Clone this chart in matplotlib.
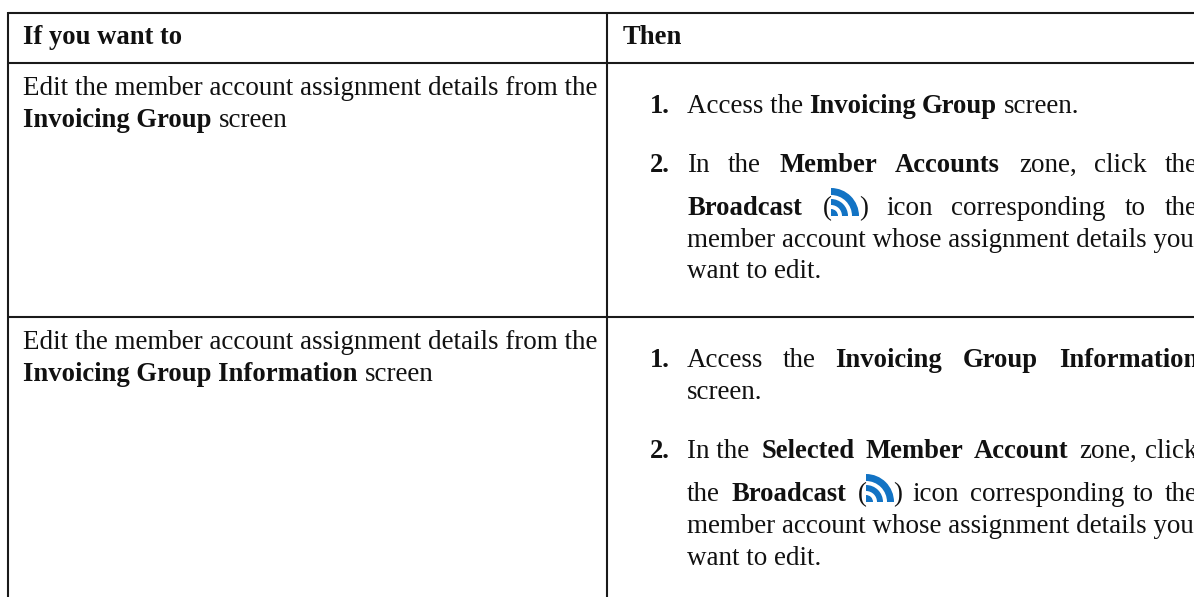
import matplotlib
matplotlib.use("Agg")
import matplotlib.pyplot as plt
from matplotlib.patches import Wedge

W, H = 1194, 597
FS = 19.45
FS_BOLD = 19.2
FONT = "Liberation Serif"

# (x, baseline_y, text, bold)
runs = [
    (23, 44, "If you want to", True),
    (623, 44, "Then", True),
    (23, 95, "Edit the member account assignment details from the", False),
    (23, 127, "Invoicing Group", True),
    (219, 127, "screen", False),
    (650, 113, "1.", True),
    (687, 113, "Access the", False),
    (809, 113, "Invoicing", True),
    (922, 113, "Group", True),
    (1004, 113, "screen.", False),
    (650, 172, "2.", True),
    (687, 172, "In", False),
    (728, 172, "the", False),
    (779, 172, "Member", True),
    (895, 172, "Accounts", True),
    (1019, 172, "zone,", False),
    (1094, 172, "click", False),
    (1165, 172, "the", False),
    (687, 215, "Broadcast", True),
    (823, 215, "(", False),
    (859, 215, ")", False),
    (886, 215, "icon", False),
    (951, 215, "corresponding", False),
    (1125, 215, "to", False),
    (1165, 215, "the", False),
    (687, 247, "member account whose assignment details you", False),
    (687, 278, "want to edit.", False),
    (23, 349, "Edit the member account assignment details from the", False),
    (23, 381, "Invoicing Group Information", True),
    (365, 381, "screen", False),
    (650, 367, "1.", True),
    (687, 367, "Access", False),
    (783, 367, "the", False),
    (835, 367, "Invoicing", True),
    (963, 367, "Group", True),
    (1059, 367, "Information", True),
    (687, 399, "screen.", False),
    (650, 458, "2.", True),
    (687, 458, "In the", False),
    (762, 458, "Selected", True),
    (866, 458, "Member", True),
    (974, 458, "Account", True),
    (1079, 458, "zone,", False),
    (1145, 458, "click", False),
    (687, 501, "the", False),
    (731, 501, "Broadcast", True),
    (858, 501, "(", False),
    (893, 501, ")", False),
    (912, 501, "icon", False),
    (970, 501, "corresponding", False),
    (1133, 501, "to", False),
    (1165, 501, "the", False),
    (687, 533, "member account whose assignment details you", False),
    (687, 565, "want to edit.", False),
]

# horizontal rules: (y, x0, x1); vertical rules: (x, y0, y1)
h_rules = [(12.5, 7.5, 1194), (62.5, 7.5, 1194), (317, 7.5, 1194)]
v_rules = [(8, 12, 597), (607, 12, 597)]

# broadcast icons: lower-left corner (x, y)
icons = [(831, 216), (866, 502)]
BLUE = "#1273c4"
RINGS = [(21, 28), (11, 17), (0, 7)]

fig = plt.figure(figsize=(W / 100, H / 100), dpi=100, facecolor="white")
ax = fig.add_axes([0, 0, 1, 1])
ax.set_xlim(0, W)
ax.set_ylim(H, 0)
ax.axis("off")

for y, x0, x1 in h_rules:
    ax.plot([x0, x1], [y, y], color="#1a1a1a", lw=1.5, solid_capstyle="butt")
for x, y0, y1 in v_rules:
    ax.plot([x, x], [y0, y1], color="#1a1a1a", lw=1.5, solid_capstyle="butt")

for x, y, s, b in runs:
    ax.text(x, y, s, family=FONT, fontsize=FS_BOLD if b else FS, color="#111111",
            fontweight="bold" if b else "normal", ha="left", va="baseline")

for x, y in icons:
    for r0, r1 in RINGS:
        # the y axis is inverted: 270..360 in data angles faces up and right on screen
        ax.add_patch(Wedge((x, y), r1, 270, 360, width=r1 - r0, color=BLUE, lw=0))

fig.savefig("out.png", dpi=100, facecolor="white")
